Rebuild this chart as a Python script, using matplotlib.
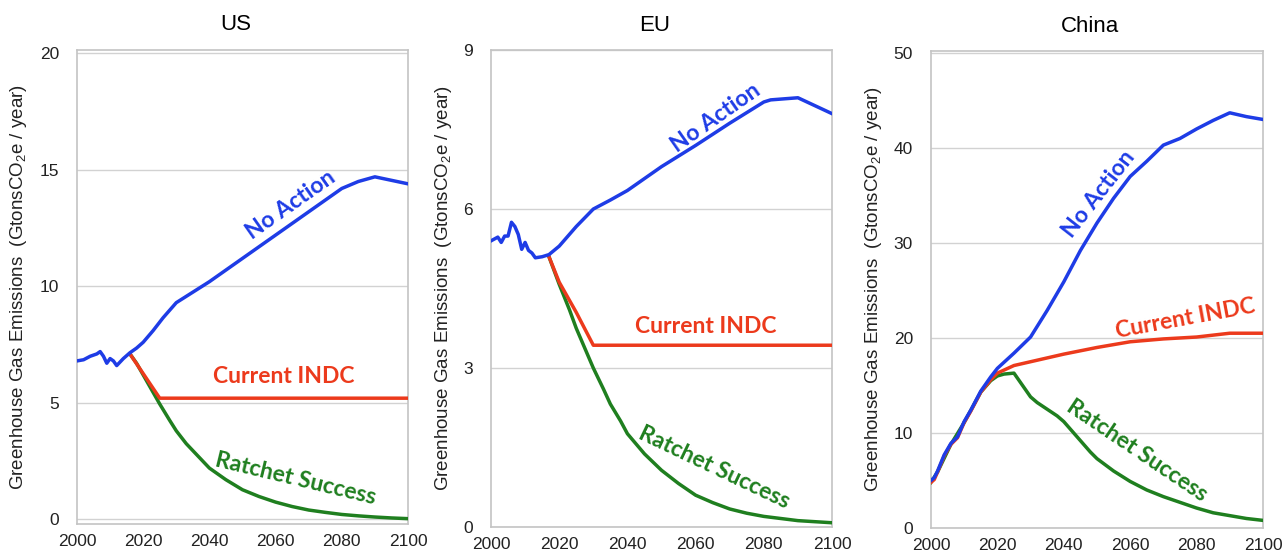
import matplotlib
matplotlib.use("Agg")
import matplotlib.pyplot as plt

# ─────────────────────────────────────────────
# Data
# ─────────────────────────────────────────────

US_NOACT_YR  = [2000, 2002, 2004, 2006, 2007, 2008, 2009, 2010, 2011, 2012, 2014, 2016,
                2018, 2020, 2023, 2026, 2030, 2035, 2040, 2050, 2060, 2070, 2080, 2085,
                2090, 2095, 2100]
US_NOACT     = [6.8, 6.85, 7.0, 7.1, 7.2, 7.0, 6.7, 6.9, 6.8, 6.6, 6.9, 7.15,
                7.35, 7.6, 8.1, 8.65, 9.3, 9.75, 10.2, 11.2, 12.2, 13.2, 14.2, 14.5,
                14.7, 14.55, 14.4]
US_INDC_YR   = [2016, 2025, 2100]
US_INDC      = [7.1, 5.2, 5.2]
US_RATCH_YR  = [2016, 2018, 2020, 2022, 2025, 2028, 2030, 2033, 2036, 2040, 2045, 2050,
                2055, 2060, 2065, 2070, 2075, 2080, 2085, 2090, 2095, 2100]
US_RATCH     = [7.1, 6.7, 6.2, 5.7, 4.95, 4.25, 3.8, 3.25, 2.8, 2.2, 1.7, 1.27,
                0.98, 0.74, 0.55, 0.4, 0.3, 0.21, 0.15, 0.1, 0.06, 0.03]

EU_NOACT_YR  = [2000, 2002, 2003, 2004, 2005, 2006, 2007, 2008, 2009, 2010, 2011, 2012,
                2013, 2015, 2017, 2020, 2025, 2030, 2035, 2040, 2050, 2060, 2070, 2080,
                2082, 2090, 2095, 2100]
EU_NOACT     = [5.4, 5.47, 5.37, 5.49, 5.49, 5.75, 5.67, 5.52, 5.24, 5.37, 5.22, 5.17,
                5.08, 5.1, 5.14, 5.3, 5.67, 6.0, 6.17, 6.35, 6.8, 7.2, 7.62, 8.02,
                8.06, 8.1, 7.95, 7.8]
EU_INDC_YR   = [2017, 2020, 2025, 2030, 2100]
EU_INDC      = [5.1, 4.62, 4.05, 3.43, 3.43]
EU_RATCH_YR  = [2017, 2020, 2023, 2025, 2028, 2030, 2033, 2035, 2038, 2040, 2045, 2050,
                2055, 2060, 2065, 2070, 2075, 2080, 2085, 2090, 2095, 2100]
EU_RATCH     = [5.1, 4.58, 4.1, 3.75, 3.3, 3.0, 2.6, 2.32, 2.0, 1.76, 1.38, 1.07,
                0.82, 0.6, 0.46, 0.34, 0.26, 0.2, 0.16, 0.12, 0.1, 0.08]

CN_NOACT_YR  = [2000, 2001, 2002, 2004, 2006, 2008, 2010, 2012, 2015, 2018, 2020, 2025,
                2030, 2035, 2040, 2045, 2050, 2055, 2060, 2065, 2070, 2075, 2080, 2085,
                2090, 2095, 2100]
CN_NOACT     = [5.0, 5.3, 6.0, 7.7, 8.9, 9.6, 11.2, 12.4, 14.4, 15.9, 16.8, 18.4,
                20.1, 22.9, 25.9, 29.2, 32.1, 34.7, 37.0, 38.6, 40.3, 41.0, 42.0, 42.9,
                43.7, 43.3, 43.0]
CN_INDC_YR   = [2000, 2001, 2002, 2004, 2006, 2008, 2010, 2012, 2015, 2018, 2020, 2025,
                2030, 2040, 2050, 2060, 2070, 2080, 2090, 2100]
CN_INDC      = [4.8, 5.1, 5.9, 7.6, 8.8, 9.5, 11.1, 12.3, 14.3, 15.6, 16.3, 17.1,
                17.5, 18.3, 19.0, 19.6, 19.9, 20.1, 20.5, 20.5]
CN_RATCH_YR  = [2000, 2002, 2006, 2010, 2015, 2018, 2020, 2022, 2025, 2027, 2030, 2032,
                2035, 2038, 2040, 2043, 2045, 2048, 2050, 2055, 2060, 2065, 2070, 2075,
                2080, 2085, 2090, 2095, 2100]
CN_RATCH     = [4.8, 5.9, 8.8, 11.1, 14.3, 15.5, 16.0, 16.2, 16.3, 15.3, 13.8, 13.2,
                12.5, 11.8, 11.2, 10.0, 9.2, 8.0, 7.3, 6.0, 4.9, 4.0, 3.3, 2.7,
                2.1, 1.6, 1.3, 1.0, 0.8]

# ─────────────────────────────────────────────
# Style
# ─────────────────────────────────────────────

BLUE   = "#1e3ce6"
RED    = "#ec3a1c"
GREEN  = "#1f7f1f"
GRID_C = "#d2d2d2"
FRAME  = "#c4c4c4"
LW     = 2.5

plt.rcParams['font.family'] = ['Liberation Sans', 'DejaVu Sans']
plt.rcParams['mathtext.fontset'] = 'custom'
plt.rcParams['mathtext.rm'] = 'Liberation Sans'

YLABEL = "Greenhouse Gas Emissions  (GtonsCO$_2$e / year)"
LBL_FONT = "Lato"
LBL_FS   = 16.5

panels = [
    dict(title="US", rect=[0.060, 0.0507, 0.258, 0.859], ylim=(-0.2, 20.15),
         yticks=[0, 5, 10, 15, 20], ylab_x=-0.145,
         noact=(US_NOACT_YR, US_NOACT), indc=(US_INDC_YR, US_INDC),
         ratch=(US_RATCH_YR, US_RATCH),
         lbl_noact=(2064.5, 13.5, 35), lbl_indc=(2062.5, 6.15, 0),
         lbl_ratch=(2066, 1.75, -13.5)),
    dict(title="EU", rect=[0.3827, 0.0453, 0.2658, 0.864], ylim=(0, 8.98),
         yticks=[0, 3, 6, 9], ylab_x=-0.108,
         noact=(EU_NOACT_YR, EU_NOACT), indc=(EU_INDC_YR, EU_INDC),
         ratch=(EU_RATCH_YR, EU_RATCH),
         lbl_noact=(2066, 7.72, 35), lbl_indc=(2063, 3.78, 0),
         lbl_ratch=(2065.5, 1.13, -25.5)),
    dict(title="China", rect=[0.7256, 0.0435, 0.2588, 0.864], ylim=(0, 50.2),
         yticks=[0, 10, 20, 30, 40, 50], ylab_x=-0.142,
         noact=(CN_NOACT_YR, CN_NOACT), indc=(CN_INDC_YR, CN_INDC),
         ratch=(CN_RATCH_YR, CN_RATCH),
         lbl_noact=(2050.5, 35.1, 52), lbl_indc=(2076.5, 22.0, 10.5),
         lbl_ratch=(2062, 8.1, -34)),
]

fig = plt.figure(figsize=(12.83, 5.52), dpi=100, facecolor='white')

for p in panels:
    ax = fig.add_axes(p['rect'])
    ax.plot(*p['ratch'], color=GREEN, lw=LW, solid_joinstyle='round', zorder=3)
    ax.plot(*p['indc'],  color=RED,   lw=LW, solid_joinstyle='round', zorder=4)
    ax.plot(*p['noact'], color=BLUE,  lw=LW, solid_joinstyle='round', zorder=5)

    ax.set_xlim(2000, 2100)
    ax.set_ylim(*p['ylim'])
    ax.set_xticks([2000, 2020, 2040, 2060, 2080, 2100])
    ax.set_yticks(p['yticks'])
    ax.tick_params(length=0, labelsize=12.5, colors='#222222')
    ax.tick_params(axis='y', pad=13)
    ax.tick_params(axis='x', pad=7)

    ax.yaxis.grid(True, color=GRID_C, lw=1.0)
    ax.set_axisbelow(True)
    for s in ax.spines.values():
        s.set_color(FRAME)
        s.set_linewidth(1.2)

    ax.set_title(p['title'], fontsize=16, x=0.48, pad=14)
    ax.set_ylabel(YLABEL, fontsize=13.5, color='#222222')
    ax.yaxis.set_label_coords(p['ylab_x'], 0.5)

    for key, text, col in [('lbl_noact', "No Action", BLUE),
                           ('lbl_indc', "Current INDC", RED),
                           ('lbl_ratch', "Ratchet Success", GREEN)]:
        x, y, rot = p[key]
        ax.text(x, y, text, color=col, fontsize=LBL_FS, fontweight='bold',
                family=LBL_FONT, rotation=rot, rotation_mode='anchor',
                ha='center', va='center', zorder=6)

plt.savefig("out.png", dpi=100, facecolor='white')
plt.close()
